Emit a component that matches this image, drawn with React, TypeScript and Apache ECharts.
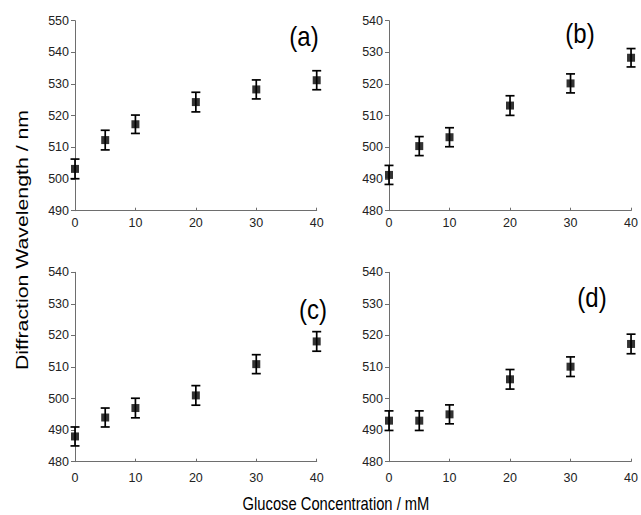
import React, { useEffect, useRef } from "react";
import * as echarts from "echarts";

const CONC = [0, 5, 10, 20, 30, 40];
const WAVE_A = [503.2, 512.3, 517.3, 524.3, 528.3, 531.2];
const WAVE_B = [491.3, 500.4, 503.2, 513.2, 520.2, 528.3];
const WAVE_C = [488.0, 494.0, 497.0, 501.0, 510.9, 518.1];
const WAVE_D = [493.0, 493.0, 495.0, 506.1, 510.1, 517.3];
const ERR_A = [3.1, 3.1, 2.9, 3.1, 3.0, 3.0];
const ERR_B = [3.0, 3.0, 3.0, 3.1, 3.0, 2.9];
const ERR_C = [3.0, 3.0, 3.1, 3.1, 3.0, 3.1];
const ERR_D = [3.1, 3.1, 3.0, 3.1, 3.1, 3.1];
const Y_RANGES = [
  [490, 550],
  [480, 540],
  [480, 540],
  [480, 540],
];
const PANEL_LABELS = ["(a)", "(b)", "(c)", "(d)"];
const X_TITLE = "Glucose Concentration / mM";
const Y_TITLE = "Diffraction Wavelength / nm";

const FONT = "'Liberation Sans', Arial, Helvetica, sans-serif";

export default function App() {
  const ref = useRef<HTMLDivElement>(null);
  useEffect(() => {
    if (!ref.current) return;
    const chart = echarts.init(ref.current, undefined, { renderer: "svg" });
    const grids = [
      { left: 75, top: 20.7, width: 241.7, height: 190 },
      { left: 389, top: 20.7, width: 242.7, height: 190 },
      { left: 75, top: 272.3, width: 241.7, height: 189.4 },
      { left: 389, top: 272.3, width: 242.7, height: 189.4 },
    ];
    const vals = [WAVE_A, WAVE_B, WAVE_C, WAVE_D];
    const errs = [ERR_A, ERR_B, ERR_C, ERR_D];
    const axisLine = { lineStyle: { color: "#6e6e6e", width: 1 } };
    const labelStyle = { color: "#222", fontSize: 12.5, fontFamily: FONT };

    const xAxis = grids.map((_, i) => ({
      type: "value",
      gridIndex: i,
      min: 0,
      max: 40,
      interval: 10,
      axisLine: { show: true, ...axisLine },
      axisTick: { show: true, inside: true, length: 3, lineStyle: { color: "#6e6e6e" } },
      axisLabel: { ...labelStyle, margin: i < 2 ? 6 : 10 },
      splitLine: { show: false },
    }));
    const yAxis = grids.map((_, i) => ({
      type: "value",
      gridIndex: i,
      min: Y_RANGES[i][0],
      max: Y_RANGES[i][1],
      interval: 10,
      axisLine: { show: true, ...axisLine },
      axisTick: { show: true, inside: false, length: 4, lineStyle: { color: "#6e6e6e" } },
      axisLabel: { ...labelStyle, margin: 6 },
      splitLine: { show: false },
    }));

    const series: any[] = [];
    vals.forEach((v, i) => {
      const e = errs[i];
      series.push({
        type: "custom",
        xAxisIndex: i,
        yAxisIndex: i,
        clip: false,
        encode: { x: 0, y: [1, 2] },
        data: CONC.map((x, k) => [x, v[k] - e[k], v[k] + e[k]]),
        renderItem: (params: any, api: any) => {
          const x = api.value(0);
          const lo = api.coord([x, api.value(1)]);
          const hi = api.coord([x, api.value(2)]);
          const hw = 4.5;
          const st = { stroke: "#000", lineWidth: 1.7 };
          return {
            type: "group",
            children: [
              { type: "line", shape: { x1: lo[0], y1: lo[1], x2: hi[0], y2: hi[1] }, style: st },
              { type: "line", shape: { x1: lo[0] - hw, y1: lo[1], x2: lo[0] + hw, y2: lo[1] }, style: st },
              { type: "line", shape: { x1: hi[0] - hw, y1: hi[1], x2: hi[0] + hw, y2: hi[1] }, style: st },
            ],
          };
        },
      });
      series.push({
        type: "scatter",
        xAxisIndex: i,
        yAxisIndex: i,
        clip: false,
        symbol: "rect",
        symbolSize: 8,
        itemStyle: { color: "#000" },
        data: CONC.map((x, k) => [x, v[k]]),
      });
    });

    const labelPos = [
      [304, 36],
      [580, 33],
      [313, 309],
      [592, 297],
    ];
    const graphic: any[] = PANEL_LABELS.map((t, i) => ({
      type: "text",
      x: labelPos[i][0],
      y: labelPos[i][1],
      scaleX: 1,
      scaleY: 1.15,
      style: {
        text: t,
        fontSize: 24,
        fontFamily: FONT,
        fill: "#000",
        textAlign: "center",
        textVerticalAlign: "middle",
      },
    }));
    graphic.push({
      type: "text",
      x: 336,
      y: 503,
      scaleX: 0.82,
      scaleY: 1,
      style: {
        text: X_TITLE,
        fontSize: 18,
        fontFamily: FONT,
        fill: "#000",
        textAlign: "center",
        textVerticalAlign: "middle",
      },
    });
    graphic.push({
      type: "text",
      x: 22,
      y: 240,
      rotation: Math.PI / 2,
      scaleX: 1.33,
      scaleY: 1,
      style: {
        text: Y_TITLE,
        fontSize: 16,
        fontFamily: FONT,
        fill: "#000",
        textAlign: "center",
        textVerticalAlign: "middle",
      },
    });

    chart.setOption({
      animation: false,
      backgroundColor: "#fff",
      grid: grids.map((g) => ({ ...g, containLabel: false })),
      xAxis,
      yAxis,
      series,
      graphic,
    });
    return () => chart.dispose();
  }, []);
  return (
    <div
      ref={ref}
      style={{ position: "absolute", left: 0, top: 0, width: 641, height: 515 }}
    />
  );
}
